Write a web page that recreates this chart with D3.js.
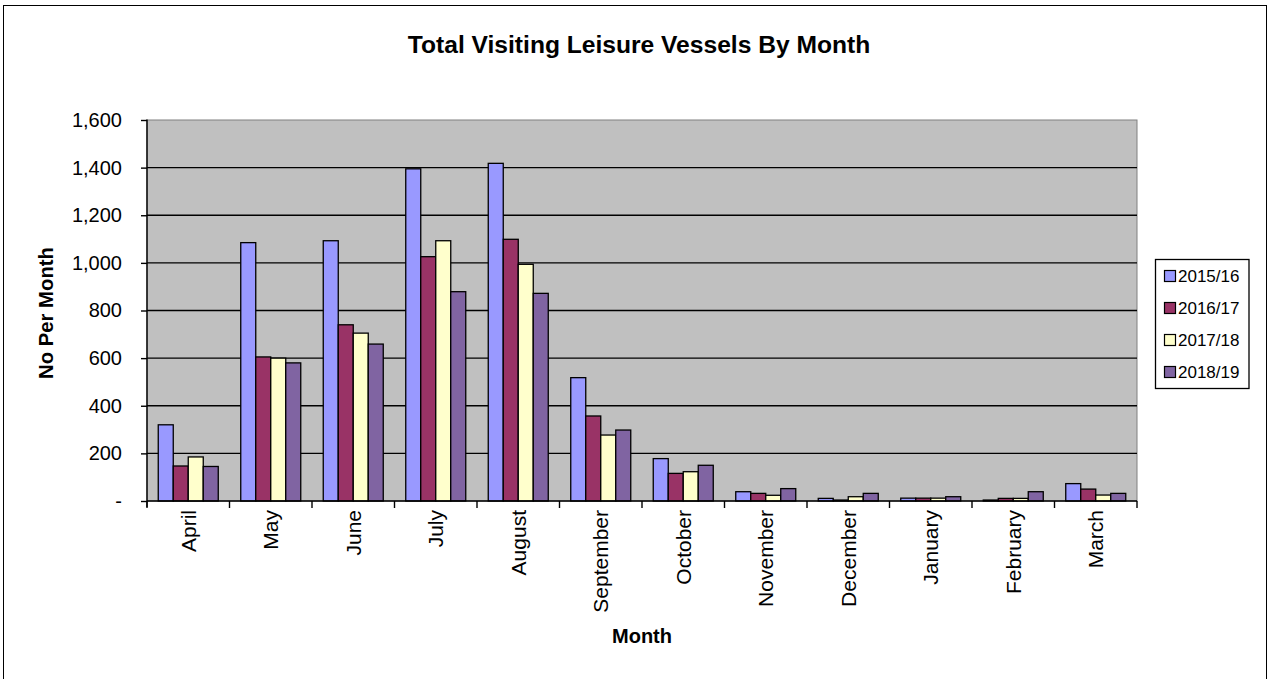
<!DOCTYPE html>
<html>
<head>
<meta charset="utf-8">
<script src="https://cdn.jsdelivr.net/npm/d3@7"></script>
<style>
  body { margin: 0; background: #fff; }
  svg { display: block; font-family: Arial, "Liberation Sans", sans-serif; }
</style>
</head>
<body>
<svg width="1270" height="679"></svg>
<script>
var months = ["April", "May", "June", "July", "August", "September", "October",
  "November", "December", "January", "February", "March"];
var seasons = ["2015/16", "2016/17", "2017/18", "2018/19"];
var colors = ["#9999FF", "#993366", "#FFFFCC", "#8064A2"];

var v2015 = [320, 1085, 1093, 1395, 1418, 518, 178, 39, 11, 12, 4, 73];
var v2016 = [147, 605, 740, 1026, 1099, 357, 116, 32, 4, 12, 11, 50];
var v2017 = [185, 600, 705, 1093, 994, 277, 123, 24, 18, 12, 11, 25];
var v2018 = [145, 580, 659, 879, 872, 298, 150, 52, 32, 18, 39, 32];

var yTicks = [0, 200, 400, 600, 800, 1000, 1200, 1400, 1600];

var seriesValues = [v2015, v2016, v2017, v2018];

function draw()
{
  var svg = d3.select("svg");
  var left = 147, right = 1137, top = 120, bottom = 501;

  // outer frame
  svg.append("rect")
    .attr("x", 3.5).attr("y", 5.5)
    .attr("width", 1263).attr("height", 690)
    .style("fill", "none").style("stroke", "#000").style("stroke-width", 1);

  var x0 = d3.scaleBand().domain(months).range([left, right]).padding(0);
  var bw = x0.bandwidth();
  var gap = bw * 0.75 / 5.5;
  var x1 = d3.scaleBand().domain(seasons).range([gap, bw - gap]).padding(0);
  var y = d3.scaleLinear().domain([0, 1600]).range([bottom, top]);

  // plot background
  svg.append("rect")
    .attr("x", left).attr("y", top)
    .attr("width", right - left).attr("height", bottom - top)
    .style("fill", "#C0C0C0").style("stroke", "#808080").style("stroke-width", 1);

  // gridlines
  svg.selectAll("line.grid")
    .data(yTicks.filter(d => d > 0 && d < 1600))
    .enter()
    .append("line")
    .attr("class", "grid")
    .attr("x1", left).attr("x2", right)
    .attr("y1", d => y(d)).attr("y2", d => y(d))
    .style("stroke", "#000").style("stroke-width", 1.4);

  // bars
  var rows = [];
  for(var s=0;s<seasons.length;s++)
  {
    for(var m=0;m<months.length;m++)
    {
      rows.push({season: seasons[s], month: months[m], value: seriesValues[s][m], color: colors[s]});
    }
  }
  svg.selectAll("rect.bar")
    .data(rows)
    .enter()
    .append("rect")
    .attr("class", "bar")
    .attr("x", d => x0(d.month) + x1(d.season))
    .attr("width", x1.bandwidth())
    .attr("y", d => y(d.value))
    .attr("height", d => y(0) - y(d.value))
    .style("fill", d => d.color)
    .style("stroke", "#000").style("stroke-width", 1.3);

  // y axis
  var yAxis = d3.axisLeft(y)
    .tickValues(yTicks)
    .tickSize(6)
    .tickPadding(19)
    .tickFormat(d => d == 0 ? "-" : d3.format(",")(d));
  var gy = svg.append("g").attr("transform", "translate(" + left + ",0)").call(yAxis);
  gy.select(".domain").attr("d", "M0," + (top - 0.5) + "V" + (bottom + 6)).style("stroke-width", 1.4);
  gy.selectAll(".tick line").style("stroke-width", 1.4);
  gy.selectAll("text").style("font-size", "20px").style("fill", "#000")
    .style("font-family", "Arial, 'Liberation Sans', sans-serif");

  // x axis
  var xAxis = d3.axisBottom(x0).tickSize(0).tickPadding(9);
  var gx = svg.append("g").attr("transform", "translate(0," + bottom + ")").call(xAxis);
  gx.select(".domain").attr("d", "M" + left + ",0H" + right).style("stroke-width", 1.4);
  gx.selectAll("line.cat")
    .data(months.concat(["end"]))
    .enter()
    .append("line")
    .attr("class", "cat")
    .attr("x1", (d, i) => left + i * bw).attr("x2", (d, i) => left + i * bw)
    .attr("y1", 0).attr("y2", 7)
    .style("stroke", "#000").style("stroke-width", 1.4);
  gx.selectAll(".tick text")
    .attr("transform", "rotate(-90)")
    .attr("x", -9).attr("y", 0).attr("dy", "0.35em")
    .attr("text-anchor", "end")
    .style("font-size", "21px").style("fill", "#000")
    .style("font-family", "Arial, 'Liberation Sans', sans-serif");

  // titles
  svg.append("text")
    .attr("x", 639).attr("y", 53)
    .attr("text-anchor", "middle")
    .style("font-size", "24.6px").style("font-weight", "bold")
    .text("Total Visiting Leisure Vessels By Month");

  svg.append("text")
    .attr("x", 642).attr("y", 643)
    .attr("text-anchor", "middle")
    .style("font-size", "20px").style("font-weight", "bold")
    .text("Month");

  svg.append("text")
    .attr("transform", "translate(53,313) rotate(-90)")
    .attr("text-anchor", "middle")
    .style("font-size", "20.3px").style("font-weight", "bold")
    .text("No Per Month");

  // legend
  var legend = svg.append("g");
  legend.append("rect")
    .attr("x", 1155.5).attr("y", 259.5)
    .attr("width", 93.5).attr("height", 129)
    .style("fill", "#fff").style("stroke", "#000").style("stroke-width", 1.3);
  var items = legend.selectAll("g.item")
    .data(seasons)
    .enter()
    .append("g")
    .attr("class", "item")
    .attr("transform", (d, i) => "translate(1164," + (276 + i * 32) + ")");
  items.append("rect")
    .attr("x", 0.5).attr("y", -5.5)
    .attr("width", 11).attr("height", 11)
    .style("fill", (d, i) => colors[i])
    .style("stroke", "#000").style("stroke-width", 1.2);
  items.append("text")
    .attr("x", 14).attr("dy", "0.36em")
    .style("font-size", "17px")
    .text(d => d);
}

draw();
</script>
</body>
</html>
